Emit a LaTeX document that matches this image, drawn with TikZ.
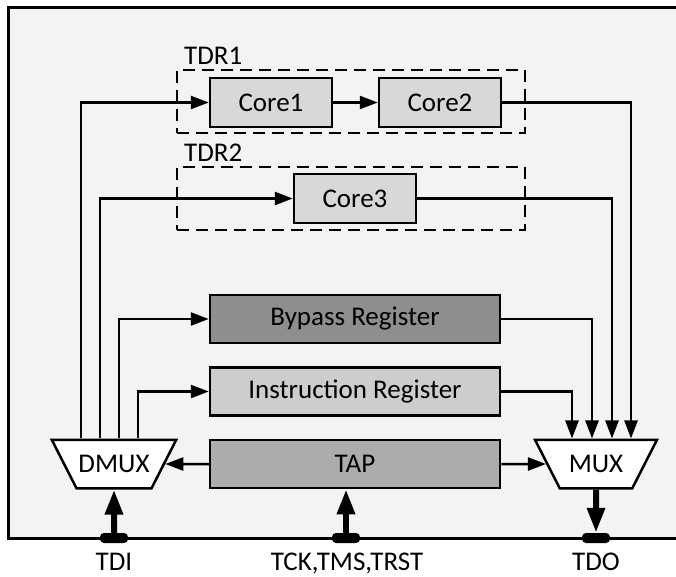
\documentclass[tikz,border=0pt]{standalone}
\usepackage{fontspec}
\setmainfont{Carlito}
\usetikzlibrary{arrows.meta,shapes.geometric,positioning,calc}
\definecolor{mybg}{RGB}{243,243,243}
\definecolor{mycore}{RGB}{216,216,216}
\definecolor{mybypass}{RGB}{142,142,142}
\definecolor{myir}{RGB}{205,205,205}
\definecolor{mytap}{RGB}{172,172,172}
\tikzstyle{core}=[draw,fill=mycore,line width=2.5pt,minimum width=122pt,minimum height=49pt,inner sep=0pt]
\tikzstyle{reg}=[draw,line width=2.5pt,minimum width=290pt,minimum height=48pt,inner sep=0pt]
\tikzstyle{tdr}=[draw,dash pattern=on 12pt off 7pt,line width=2.5pt,minimum width=348pt,minimum height=63pt,inner sep=0pt]
\tikzstyle{mx}=[draw,fill=white,line width=2.5pt,trapezium,trapezium angle=63,shape border rotate=180,trapezium stretches body=true,minimum width=122pt,inner xsep=2pt,inner ysep=15.5pt]
\tikzstyle{pad}=[fill=black,rounded corners=4pt,minimum width=28pt,minimum height=10pt,inner sep=0pt]
\tikzstyle{arr}=[-{Triangle[length=18pt,width=13pt]},line width=2.5pt]
\tikzstyle{bigarr}=[-{Triangle[length=25pt,width=17pt]},line width=6pt]

\begin{document}
\begin{tikzpicture}[x=1pt,y=-1pt,font=\fontsize{27pt}{31pt}\selectfont]
\useasboundingbox (0,0) rectangle (676,576);
\fill[mybg] (8,7) rectangle (676,538);
\draw[line width=3pt] (676,7) -- (8,7) -- (8,538) -- (676,538);
% test data registers
\draw (351,101.5) node [tdr] (tdr1) {};
\draw (351,198.5) node [tdr] (tdr2) {};
\draw (184,64) node [anchor=base west,inner sep=0pt] (tdr1lbl) {TDR1};
\draw (184,161) node [anchor=base west,inner sep=0pt] (tdr2lbl) {TDR2};
\draw (271,102.5) node [core] (core1) {Core1};
\draw (440,102.5) node [core] (core2) {Core2};
\draw (355,198.5) node [core] (core3) {Core3};
% registers and tap
\draw (355,319) node [reg,fill=mybypass] (bypass) {Bypass Register};
\draw (355,391.5) node [reg,fill=myir] (ir) {Instruction Register};
\draw (355,464) node [reg,fill=mytap] (tap) {TAP};
\draw (114,464) node [mx] (dmux) {DMUX};
\draw (596,464) node [mx] (mux) {MUX};
% pins
\draw (114,538) node [pad] (tdipad) {};
\draw (346,538) node [pad] (tckpad) {};
\draw (596,538) node [pad] (tdopad) {};
\draw (114,570) node [anchor=base,inner sep=0pt] (tdi) {TDI};
\draw (347,570) node [anchor=base,inner sep=0pt] (tck) {TCK,TMS,TRST};
\draw (596,570) node [anchor=base,inner sep=0pt] (tdo) {TDO};
% connections
\draw[arr] ([xshift=-33pt]dmux.north) |- (core1);
\draw[arr] ([xshift=-14pt]dmux.north) |- (core3);
\draw[arr] ([xshift=5pt]dmux.north) |- (bypass);
\draw[arr] ([xshift=24pt]dmux.north) |- (ir);
\draw[arr] (core1) -- (core2);
\draw[arr] (core2) -| ([xshift=35pt]mux.north);
\draw[arr] (core3) -| ([xshift=16pt]mux.north);
\draw[arr] (bypass) -| ([xshift=-4pt]mux.north);
\draw[arr] (ir) -| ([xshift=-24pt]mux.north);
\draw[arr] (tap) -- (dmux);
\draw[arr] (tap) -- (mux);
\draw[bigarr] (tdipad.center) -- (dmux.south);
\draw[bigarr] (tckpad.center) -- (tckpad |- tap.south);
\draw[bigarr] (mux.south) -- (tdopad.north);
\end{tikzpicture}
\end{document}
